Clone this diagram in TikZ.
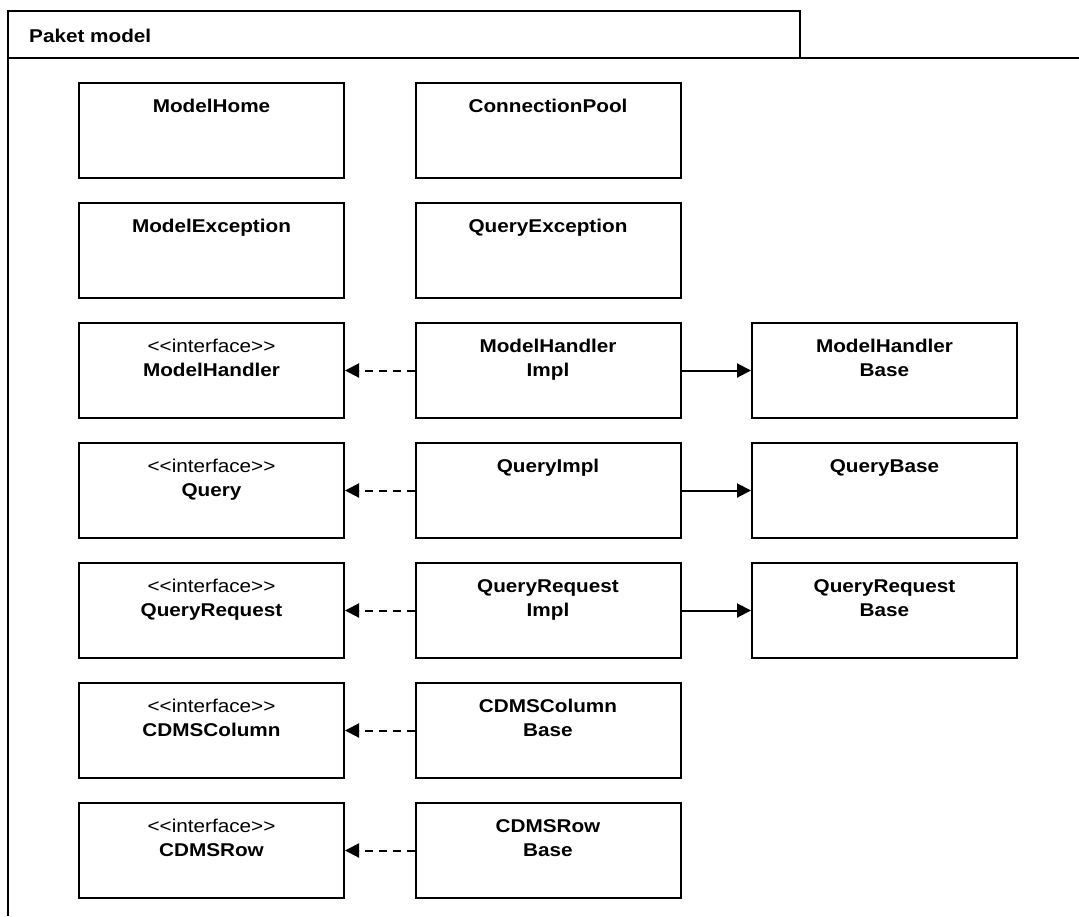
\documentclass[tikz,border=0pt]{standalone}
\usepackage{fontspec}
\setmainfont{Liberation Sans}[Ligatures=TeXOff,FakeStretch=1.12]
\usetikzlibrary{arrows.meta}

\tikzset{
  cls/.style={draw, line width=2pt, minimum width=265pt, minimum height=95pt, inner sep=0pt},
  clstext/.style={anchor=north, align=center, inner sep=0pt, font=\fontsize{18.5}{24}\selectfont},
  realize/.style={line width=2pt, dash pattern=on 8pt off 6pt, -{Triangle[length=14pt,width=14pt]}},
  inherit/.style={line width=2pt, -{Triangle[length=14pt,width=14pt]}}
}

\begin{document}
\begin{tikzpicture}[x=1pt,y=-1pt]
  \useasboundingbox (0,0) rectangle (1079,916);
  % package frame
  \draw[line width=2.2pt] (8,916) -- (8,11) -- (800,11) -- (800,58);
  \draw[line width=2.2pt] (8,58) -- (1079,58);
  \node[anchor=base west, inner sep=0pt, font=\fontsize{18.5}{22}\selectfont\bfseries] (pkg) at (29,42) {Paket model};

  % classes
  \node[cls] (home) at (211.5,130.5) {};
  \node[clstext] at ([yshift=-17pt]home.north) {\textbf{ModelHome}};
  \node[cls] (pool) at (548,130.5) {};
  \node[clstext] at ([yshift=-17pt]pool.north) {\textbf{ConnectionPool}};

  \node[cls] (mexc) at (211.5,250.5) {};
  \node[clstext] at ([yshift=-17pt]mexc.north) {\textbf{ModelException}};
  \node[cls] (qexc) at (548,250.5) {};
  \node[clstext] at ([yshift=-17pt]qexc.north) {\textbf{QueryException}};

  \node[cls] (ihandler) at (211.5,370.5) {};
  \node[clstext] at ([yshift=-17pt]ihandler.north) {<<interface>>\\\textbf{ModelHandler}};
  \node[cls] (handlerimpl) at (548,370.5) {};
  \node[clstext] at ([yshift=-17pt]handlerimpl.north) {\textbf{ModelHandler}\\\textbf{Impl}};
  \node[cls] (handlerbase) at (884.5,370.5) {};
  \node[clstext] at ([yshift=-17pt]handlerbase.north) {\textbf{ModelHandler}\\\textbf{Base}};

  \node[cls] (iquery) at (211.5,490.5) {};
  \node[clstext] at ([yshift=-17pt]iquery.north) {<<interface>>\\\textbf{Query}};
  \node[cls] (queryimpl) at (548,490.5) {};
  \node[clstext] at ([yshift=-17pt]queryimpl.north) {\textbf{QueryImpl}};
  \node[cls] (querybase) at (884.5,490.5) {};
  \node[clstext] at ([yshift=-17pt]querybase.north) {\textbf{QueryBase}};

  \node[cls] (irequest) at (211.5,610.5) {};
  \node[clstext] at ([yshift=-17pt]irequest.north) {<<interface>>\\\textbf{QueryRequest}};
  \node[cls] (requestimpl) at (548,610.5) {};
  \node[clstext] at ([yshift=-17pt]requestimpl.north) {\textbf{QueryRequest}\\\textbf{Impl}};
  \node[cls] (requestbase) at (884.5,610.5) {};
  \node[clstext] at ([yshift=-17pt]requestbase.north) {\textbf{QueryRequest}\\\textbf{Base}};

  \node[cls] (icolumn) at (211.5,730.5) {};
  \node[clstext] at ([yshift=-17pt]icolumn.north) {<<interface>>\\\textbf{CDMSColumn}};
  \node[cls] (columnbase) at (548,730.5) {};
  \node[clstext] at ([yshift=-17pt]columnbase.north) {\textbf{CDMSColumn}\\\textbf{Base}};

  \node[cls] (irow) at (211.5,850.5) {};
  \node[clstext] at ([yshift=-17pt]irow.north) {<<interface>>\\\textbf{CDMSRow}};
  \node[cls] (rowbase) at (548,850.5) {};
  \node[clstext] at ([yshift=-17pt]rowbase.north) {\textbf{CDMSRow}\\\textbf{Base}};

  % realizations and generalizations
  \draw[realize] (handlerimpl) -- (ihandler);
  \draw[inherit] (handlerimpl) -- (handlerbase);
  \draw[realize] (queryimpl) -- (iquery);
  \draw[inherit] (queryimpl) -- (querybase);
  \draw[realize] (requestimpl) -- (irequest);
  \draw[inherit] (requestimpl) -- (requestbase);
  \draw[realize] (columnbase) -- (icolumn);
  \draw[realize] (rowbase) -- (irow);
\end{tikzpicture}
\end{document}
